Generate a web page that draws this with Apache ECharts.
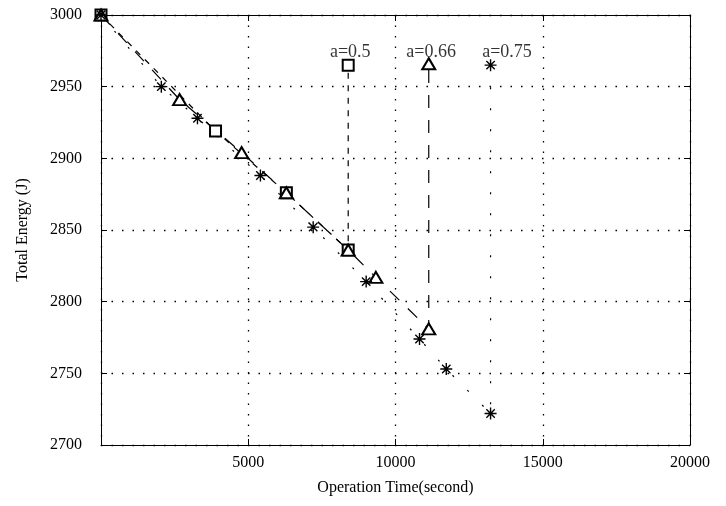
<!DOCTYPE html>
<html>
<head>
<meta charset="utf-8">
<script src="https://cdn.jsdelivr.net/npm/echarts@6/dist/echarts.min.js"></script>
<style>
  html, body { margin: 0; padding: 0; background: #fff; }
  #chart { width: 726px; height: 506px; }
</style>
</head>
<body>
<div id="chart"></div>
<script>
// Operation time (s) and total energy (J) for each value of a
const time05 = [0, 3889, 6294, 8394, 8394];
const energy05 = [3000, 2919, 2876, 2836, 2965];

const time066 = [0, 2669, 4776, 6294, 8394, 9333, 11129, 11129];
const energy066 = [3000, 2941, 2904, 2876, 2836, 2817, 2781, 2966];

const time075 = [0, 2049, 3276, 5413, 7205, 9004, 10816, 11724, 13228, 13228];
const energy075 = [3000, 2950, 2928, 2888, 2852, 2814, 2774, 2753, 2722, 2965];

// In-plot labels for each curve
const curveLabels = ['a=0.5', 'a=0.66', 'a=0.75'];
const labelTime = [7774, 10369, 12943];
const labelEnergy = [2974, 2974, 2974];

const FONT = 'Liberation Serif';
const ASTERISK = 'path://M5,0L5,10M0,5L10,5M1.5,1.5L8.5,8.5M1.5,8.5L8.5,1.5';

const zip = (xs, ys) => xs.map((x, i) => [x, ys[i]]);

function curve(name, xs, ys, symbol, size, dash) {
  const star = symbol === ASTERISK;
  return {
    name: name,
    type: 'line',
    data: zip(xs, ys),
    symbol: symbol,
    symbolSize: size,
    showSymbol: true,
    showAllSymbol: true,
    animation: false,
    lineStyle: { color: '#000', width: 1.2, type: dash },
    itemStyle: star
      ? { color: 'none', borderColor: '#000', borderWidth: 1.4 }
      : { color: '#000', borderWidth: 1.1 },
    z: 3
  };
}

const gridLine = { show: true, lineStyle: { color: '#000', width: 1.3, type: [1.5, 9] } };
const tickIn = { show: true, inside: true, length: 6, lineStyle: { color: '#000' } };

const chart = echarts.init(document.getElementById('chart'), null, { renderer: 'canvas' });
chart.setOption({
  backgroundColor: '#fff',
  animation: false,
  textStyle: { fontFamily: FONT, color: '#000' },
  grid: { left: 101, right: 36, top: 15, bottom: 61, containLabel: false },
  xAxis: [{
    type: 'value', min: 0, max: 20000, interval: 5000,
    name: 'Operation Time(second)', nameLocation: 'middle', nameGap: 35,
    nameTextStyle: { fontFamily: FONT, fontSize: 16, color: '#000' },
    axisLine: { show: true, lineStyle: { color: '#000', width: 1 } },
    axisTick: tickIn,
    axisLabel: {
      fontFamily: FONT, fontSize: 16, color: '#000', margin: 10,
      formatter: v => (v === 0 ? '' : String(v))
    },
    splitLine: gridLine
  }, {
    type: 'value', min: 0, max: 20000, interval: 5000, position: 'top',
    axisLine: { show: true, onZero: false, lineStyle: { color: '#000', width: 1 } },
    axisTick: tickIn, axisLabel: { show: false }, splitLine: { show: false }
  }],
  yAxis: [{
    type: 'value', min: 2700, max: 3000, interval: 50,
    name: 'Total Energy (J)', nameLocation: 'middle', nameGap: 70,
    nameTextStyle: { fontFamily: FONT, fontSize: 16, color: '#000' },
    axisLine: { show: true, lineStyle: { color: '#000', width: 1 } },
    axisTick: tickIn,
    axisLabel: { fontFamily: FONT, fontSize: 16, color: '#000', margin: 19, formatter: v => String(v) },
    splitLine: gridLine
  }, {
    type: 'value', min: 2700, max: 3000, interval: 50, position: 'right',
    axisLine: { show: true, onZero: false, lineStyle: { color: '#000', width: 1 } },
    axisTick: tickIn, axisLabel: { show: false }, splitLine: { show: false }
  }],
  series: [
    curve('a=0.5', time05, energy05, 'emptyRect', 11, [6, 6.5]),
    curve('a=0.66', time066, energy066, 'emptyTriangle', [13, 11], [13, 12]),
    curve('a=0.75', time075, energy075, ASTERISK, 12, [2, 19]),
    {
      name: 'labels',
      type: 'scatter',
      symbolSize: 0,
      animation: false,
      data: labelTime.map((x, i) => ({ value: [x, labelEnergy[i]], name: curveLabels[i] })),
      label: {
        show: true, position: 'right', distance: 0,
        align: 'left', verticalAlign: 'middle',
        fontFamily: FONT, fontSize: 18, color: '#000',
        formatter: p => p.name
      },
      z: 4
    }
  ]
});
</script>
</body>
</html>
